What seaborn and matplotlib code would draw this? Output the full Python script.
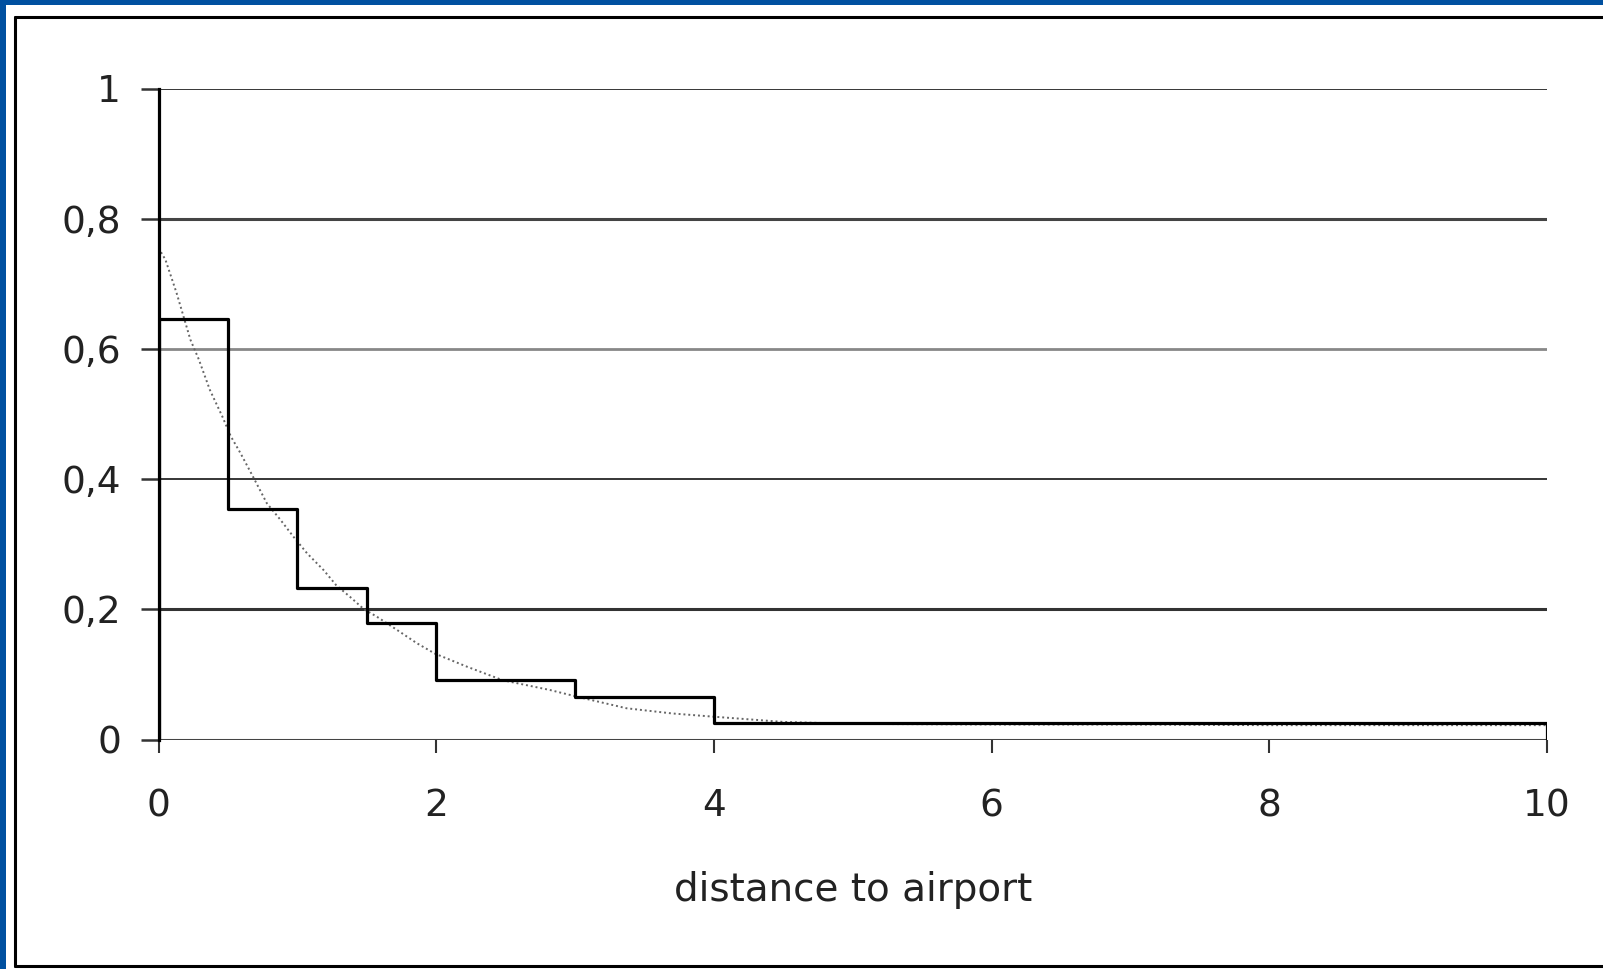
import matplotlib
matplotlib.use("Agg")
import matplotlib.pyplot as plt
from matplotlib.patches import Rectangle
from matplotlib.lines import Line2D
import seaborn as sns
import pandas as pd

# ---- data ----
bin_edges = [0, 0.5, 1, 1.5, 2, 3, 4, 10]
bin_heights = [0.646, 0.354, 0.233, 0.179, 0.092, 0.065, 0.026]

curve_x = [0.0, 0.05, 0.13, 0.23, 0.29, 0.37, 0.46, 0.52, 0.59, 0.68, 0.78, 0.88,
           0.97, 1.07, 1.19, 1.28, 1.38, 1.48, 1.57, 1.72, 1.86, 1.99, 2.22, 2.48,
           2.82, 3.01, 3.37, 3.7, 4.0, 4.5, 5.0, 6.0, 7.0, 8.0, 9.0, 10.0]
curve_y = [0.755, 0.737, 0.686, 0.614, 0.584, 0.537, 0.496, 0.466, 0.44, 0.404, 0.363, 0.337,
           0.312, 0.286, 0.26, 0.237, 0.219, 0.2, 0.189, 0.168, 0.148, 0.132, 0.112, 0.091,
           0.076, 0.066, 0.048, 0.04, 0.035, 0.027, 0.024, 0.023, 0.023, 0.022, 0.022, 0.022]

y_ticks = [0, 0.2, 0.4, 0.6, 0.8, 1]
y_tick_labels = ["0", "0,2", "0,4", "0,6", "0,8", "1"]
x_ticks = [0, 2, 4, 6, 8, 10]
x_tick_labels = ["0", "2", "4", "6", "8", "10"]
x_label = "distance to airport"

# ---- build step series ----
step_x = [bin_edges[0]] + bin_edges[:-1] + [bin_edges[-1], bin_edges[-1]]
step_y = [0] + bin_heights + [bin_heights[-1], 0]
df_step = pd.DataFrame({"x": step_x, "y": step_y})
df_curve = pd.DataFrame({"x": curve_x, "y": curve_y})

sns.set_theme(style="white")
plt.rcParams["font.family"] = ["DejaVu Sans"]

fig = plt.figure(figsize=(16.03, 9.69), dpi=100)
fig.patch.set_facecolor("#0050A0")
# white panel with black frame
fig.patches.append(Rectangle((6 / 1603, 0), 1 - 6 / 1603, 1 - 5 / 969,
                             transform=fig.transFigure, facecolor="white",
                             edgecolor="none", zorder=-5))
for xs, ys in [([15 / 1603, 15 / 1603], [1 - 966 / 969, 1 - 17 / 969]),
               ([15 / 1603, 1.0], [1 - 17 / 969, 1 - 17 / 969]),
               ([15 / 1603, 1.0], [1 - 966 / 969, 1 - 966 / 969])]:
    fig.add_artist(Line2D(xs, ys, transform=fig.transFigure, color="black",
                          lw=2.2, zorder=-4))

ax = fig.add_axes([158.5 / 1603, 1 - 739.5 / 969, (1547 - 158.5) / 1603, (739.5 - 88.5) / 969])
ax.set_zorder(2)
ax.patch.set_alpha(0)

# gridlines
grid_style = {0: ("#444444", 2.2), 0.2: ("#333333", 2.2), 0.4: ("black", 1.1),
              0.6: ("#888888", 2.0), 0.8: ("#444444", 2.2), 1: ("black", 1.1)}
for yv in y_ticks:
    c, lw = grid_style[yv]
    ax.axhline(yv, color=c, lw=lw, zorder=1)

sns.lineplot(data=df_curve, x="x", y="y", ax=ax, color="#666666", lw=1.4,
             linestyle=(0, (1, 1.5)), sort=False, estimator=None, zorder=2)
sns.lineplot(data=df_step, x="x", y="y", ax=ax, color="black", lw=2.3,
             drawstyle="steps-post", sort=False, estimator=None, zorder=3)

ax.set_xlim(0, 10)
ax.set_ylim(0, 1)
for s in ["top", "right", "bottom"]:
    ax.spines[s].set_visible(False)
ax.spines["left"].set_color("black")
ax.spines["left"].set_linewidth(2.3)
ax.spines["left"].set_zorder(4)

ax.set_xticks(x_ticks)
ax.set_xticklabels(x_tick_labels)
ax.set_yticks(y_ticks)
ax.set_yticklabels(y_tick_labels)
ax.tick_params(axis="x", direction="out", length=9, width=1.5, color="#333333",
               bottom=True, pad=26, labelsize=27, labelcolor="#222222")
ax.tick_params(axis="y", direction="out", length=13, width=1.8, color="#333333",
               left=True, pad=14, labelsize=27, labelcolor="#222222")
ax.set_xlabel(x_label, fontsize=28, color="#222222", labelpad=34)
ax.set_ylabel("")
ax.grid(False)

fig.savefig("out.png", dpi=100, facecolor=fig.get_facecolor())
